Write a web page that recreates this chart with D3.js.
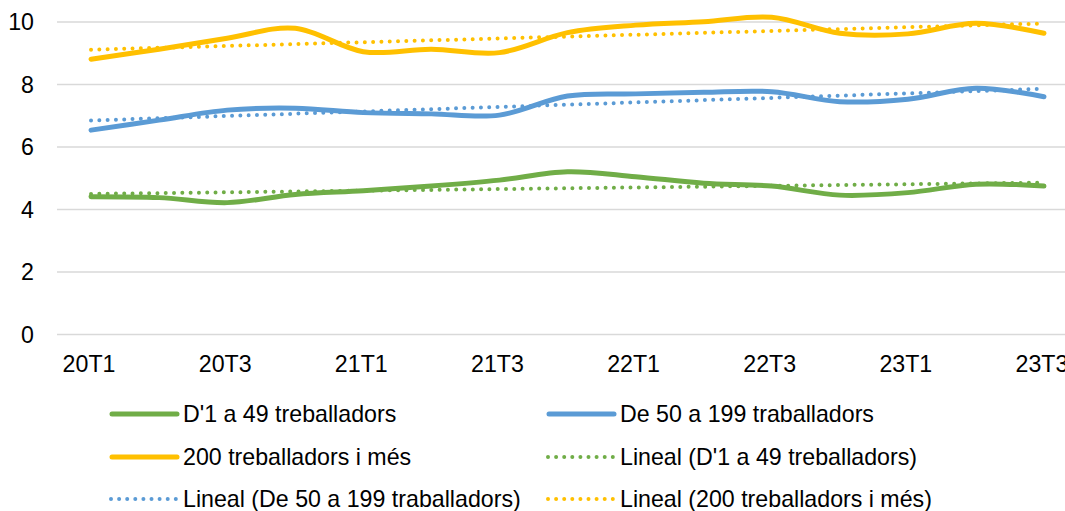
<!DOCTYPE html>
<html>
<head>
<meta charset="utf-8">
<script src="https://cdn.jsdelivr.net/npm/d3@7"></script>
<style>
  body { margin: 0; background: #fff; }
  svg { display: block; font-family: "Liberation Sans", Arial, sans-serif; }
</style>
</head>
<body>
<div id="chart"></div>
<script>
// quarters on the x axis
var quarters = ["20T1","20T2","20T3","20T4","21T1","21T2","21T3","21T4",
                "22T1","22T2","22T3","22T4","23T1","23T2","23T3"];
var yTicks = [0, 2, 4, 6, 8, 10];

var small = [4.41, 4.38, 4.22, 4.48, 4.60, 4.75, 4.94, 5.21, 5.05, 4.84, 4.75, 4.46, 4.54, 4.81, 4.75];
var medium = [6.54, 6.86, 7.18, 7.24, 7.10, 7.06, 7.02, 7.63, 7.70, 7.75, 7.77, 7.45, 7.53, 7.88, 7.61];
var large = [8.81, 9.13, 9.48, 9.80, 9.05, 9.13, 9.02, 9.66, 9.90, 10.01, 10.15, 9.64, 9.62, 9.96, 9.64];

var seriesNames = ["D'1 a 49 treballadors", "De 50 a 199 traballadors", "200 treballadors i més"];

var width = 1065, height = 511;
var fontSize = "23.2px";

var svg = d3.select("#chart").append("svg")
  .attr("width", width)
  .attr("height", height);

var x = d3.scalePoint()
  .domain(quarters)
  .range([57, 1078])
  .padding(0.5);

var y = d3.scaleLinear()
  .domain([0, 10])
  .range([334.5, 22]);

// gridlines
svg.append("g").selectAll("line")
  .data(yTicks)
  .enter().append("line")
  .attr("x1", 57).attr("x2", width)
  .attr("y1", function(d) { return y(d); })
  .attr("y2", function(d) { return y(d); })
  .style("stroke", "#d9d9d9")
  .style("stroke-width", 1.5);

// y labels
svg.append("g").selectAll("text")
  .data(yTicks)
  .enter().append("text")
  .attr("x", 34)
  .attr("y", function(d) { return y(d) + 8; })
  .attr("text-anchor", "end")
  .style("font-size", fontSize)
  .style("fill", "#000")
  .text(function(d) { return d; });

// x labels, every second quarter
svg.append("g").selectAll("text")
  .data(quarters.filter(function(d, i) { return i % 2 == 0; }))
  .enter().append("text")
  .attr("x", function(d) { return x(d) - 2; })
  .attr("y", 372)
  .attr("text-anchor", "middle")
  .style("font-size", fontSize)
  .style("fill", "#000")
  .text(function(d) { return d; });

var series = [
  { name: seriesNames[0], values: small, color: "#70ad47" },
  { name: seriesNames[1], values: medium, color: "#5b9bd5" },
  { name: seriesNames[2], values: large, color: "#ffc000" }
];

// least squares trend for each series
function trend(values) {
  var n = values.length;
  var mx = (n - 1) / 2, my = d3.mean(values);
  var sxy = 0, sxx = 0;
  values.forEach(function(v, i) { sxy += (i - mx) * (v - my); sxx += (i - mx) * (i - mx); });
  var b = sxy / sxx, a = my - b * mx;
  return [a, a + b * (n - 1)];
}

var line = d3.line()
  .x(function(d, i) { return x(quarters[i]); })
  .y(function(d) { return y(d); })
  .curve(d3.curveCatmullRom.alpha(0));

// trend lines (dotted, drawn first)
series.forEach(function(s) {
  var t = trend(s.values);
  svg.append("line")
    .attr("x1", x(quarters[0])).attr("y1", y(t[0]))
    .attr("x2", x(quarters[quarters.length - 1])).attr("y2", y(t[1]))
    .style("stroke", s.color)
    .style("stroke-width", 4)
    .style("stroke-linecap", "round")
    .style("stroke-dasharray", "0 8.3");
});

// smoothed series
series.forEach(function(s) {
  svg.append("path")
    .datum(s.values)
    .attr("d", line)
    .style("fill", "none")
    .style("stroke", s.color)
    .style("stroke-width", 5)
    .style("stroke-linecap", "round")
    .style("stroke-linejoin", "round");
});

// legend
var legendItems = [
  { label: "D'1 a 49 treballadors", color: "#70ad47", dotted: false, col: 0, row: 0 },
  { label: "De 50 a 199 traballadors", color: "#5b9bd5", dotted: false, col: 1, row: 0 },
  { label: "200 treballadors i més", color: "#ffc000", dotted: false, col: 0, row: 1 },
  { label: "Lineal (D'1 a 49 treballadors)", color: "#70ad47", dotted: true, col: 1, row: 1 },
  { label: "Lineal (De 50 a 199 traballadors)", color: "#5b9bd5", dotted: true, col: 0, row: 2 },
  { label: "Lineal (200 treballadors i més)", color: "#ffc000", dotted: true, col: 1, row: 2 }
];
var colX = [110, 547];
var rowY = [414, 457, 499];

var leg = svg.append("g").selectAll("g")
  .data(legendItems)
  .enter().append("g")
  .attr("transform", function(d) { return "translate(" + colX[d.col] + "," + rowY[d.row] + ")"; });

leg.append("line")
  .attr("x1", function(d) { return d.dotted ? 1 : 2; })
  .attr("x2", 67)
  .style("stroke", function(d) { return d.color; })
  .style("stroke-width", function(d) { return d.dotted ? 4 : 5; })
  .style("stroke-linecap", "round")
  .style("stroke-dasharray", function(d) { return d.dotted ? "0 8.1" : null; });

leg.append("text")
  .attr("x", 73)
  .attr("y", 8)
  .style("font-size", fontSize)
  .style("fill", "#000")
  .text(function(d) { return d.label; });
</script>
</body>
</html>
